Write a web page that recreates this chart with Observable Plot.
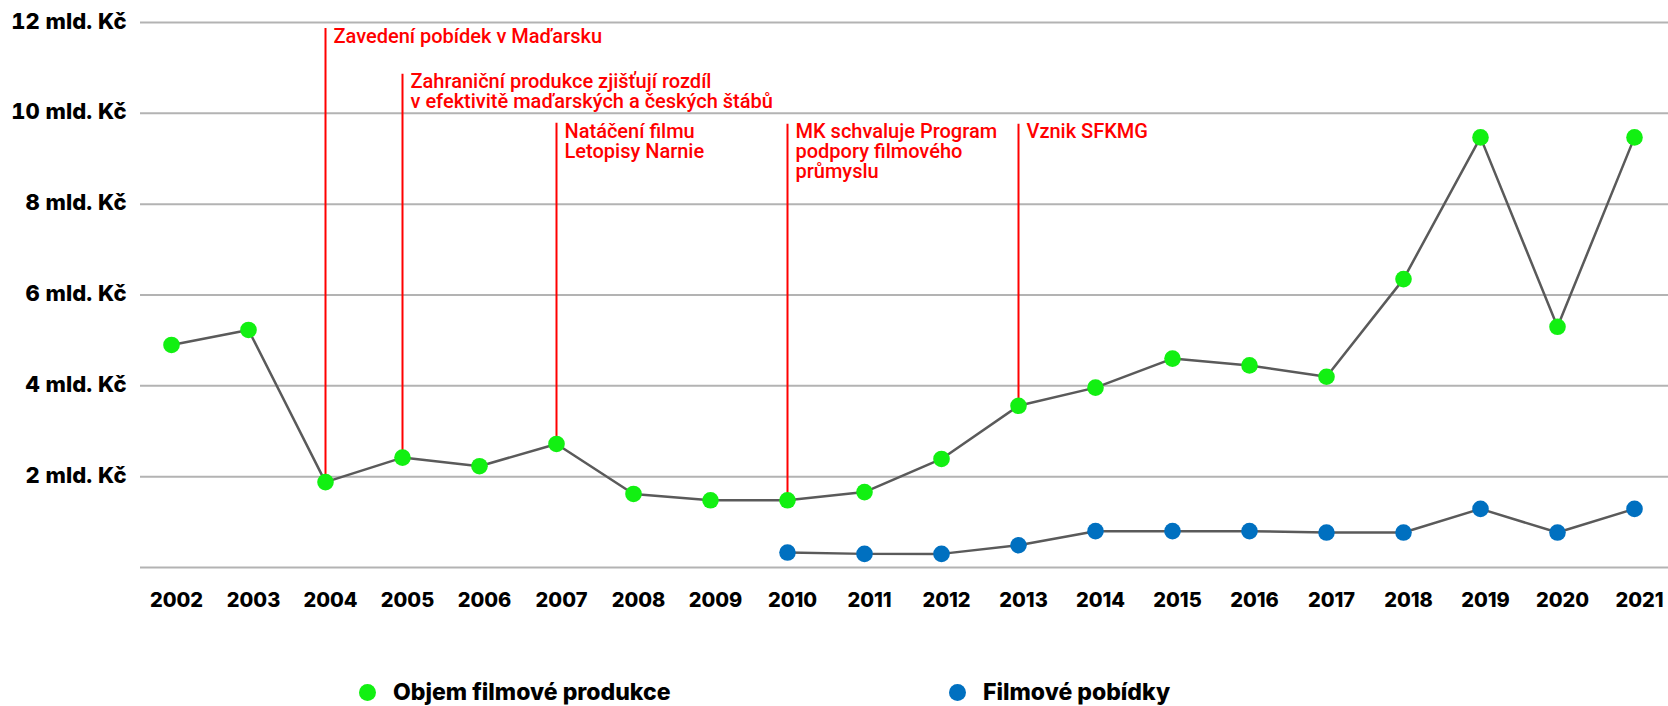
<!DOCTYPE html>
<html>
<head>
<meta charset="utf-8">
<script src="https://cdn.jsdelivr.net/npm/d3@7"></script>
<script src="https://cdn.jsdelivr.net/npm/@observablehq/plot@0.6"></script>
<style>
  html, body { margin: 0; padding: 0; background: #fff; overflow: hidden; }
  #chart svg { display: block; }
  .tick-heavy text { font-family: "Inter", sans-serif; font-weight: 800; fill: #000; }
  #legend { position: relative; height: 40px; font-family: "Inter", sans-serif; font-weight: 800; font-size: 23px; color: #000; }
  #legend .dot { position: absolute; width: 17px; height: 17px; border-radius: 50%; top: 11.5px; }
  #legend .lab { position: absolute; top: 0; line-height: 40px; white-space: nowrap; }
</style>
</head>
<body>
<div id="chart"></div>
<div id="legend"></div>
<script>
const years = [2002, 2003, 2004, 2005, 2006, 2007, 2008, 2009, 2010, 2011, 2012, 2013, 2014, 2015, 2016, 2017, 2018, 2019, 2020, 2021];
const production = [4.90, 5.23, 1.88, 2.42, 2.23, 2.72, 1.62, 1.48, 1.48, 1.66, 2.39, 3.56, 3.96, 4.60, 4.45, 4.20, 6.35, 9.47, 5.30, 9.47];
const incentiveYears = [2010, 2011, 2012, 2013, 2014, 2015, 2016, 2017, 2018, 2019, 2020, 2021];
const incentives = [0.33, 0.30, 0.30, 0.49, 0.80, 0.80, 0.80, 0.77, 0.77, 1.29, 0.77, 1.29];
const yTicks = [2, 4, 6, 8, 10, 12];
const gridValues = [0, 2, 4, 6, 8, 10, 12];
const eventYears = [2004, 2005, 2007, 2010, 2013];
const eventTops = [11.87, 10.86, 9.78, 9.76, 9.76];
const eventTexts = [
  "Zavedení pobídek v Maďarsku",
  "Zahraniční produkce zjišťují rozdíl\nv efektivitě maďarských a českých štábů",
  "Natáčení filmu\nLetopisy Narnie",
  "MK schvaluje Program\npodpory filmového\nprůmyslu",
  "Vznik SFKMG"
];
const seriesNames = ["Objem filmové produkce", "Filmové pobídky"];
const seriesColors = ["#12f012", "#0070c0"];

const prodData = years.map((y, i) => ({year: y, value: production[i]}));
const incData = incentiveYears.map((y, i) => ({year: y, value: incentives[i]}));
const events = eventYears.map((y, i) => ({
  year: y,
  top: eventTops[i],
  bottom: production[years.indexOf(y)],
  text: eventTexts[i]
}));

const chart = Plot.plot({
  width: 1668,
  height: 672,
  marginLeft: 140,
  marginRight: 0,
  marginTop: 22,
  marginBottom: 105,
  style: {background: "#fff", overflow: "visible"},
  x: {type: "point", domain: years, padding: 0, insetLeft: 22, insetRight: 25, label: null},
  y: {domain: [0, 12], label: null},
  marks: [
    Plot.ruleY(gridValues, {stroke: "#b3b3b3", strokeWidth: 2}),
    Plot.ruleX(events, {x: "year", y1: "bottom", y2: "top", stroke: "#ff0000", strokeWidth: 2}),
    Plot.line(prodData, {x: "year", y: "value", stroke: "#5a5a5a", strokeWidth: 2.5}),
    Plot.line(incData, {x: "year", y: "value", stroke: "#5a5a5a", strokeWidth: 2.5}),
    Plot.dot(prodData, {x: "year", y: "value", r: 8.3, fill: seriesColors[0], stroke: "none"}),
    Plot.dot(incData, {x: "year", y: "value", r: 8.3, fill: seriesColors[1], stroke: "none"}),
    Plot.text(events, {
      x: "year", y: "top", text: "text",
      textAnchor: "start", lineAnchor: "top", dx: 8,
      fill: "#ff0000", fontSize: 20, fontWeight: 500, fontFamily: "Roboto",
      lineHeight: 1.0
    }),
    Plot.axisY({
      ticks: yTicks, tickFormat: d => `${d} mld. Kč`, tickSize: 0, tickPadding: 14, label: null,
      fontSize: 22, fontWeight: 800, fontFamily: "Inter", className: "tick-heavy", dy: -1
    }),
    Plot.axisX({
      tickSize: 0, tickPadding: 25, tickFormat: d => String(d), label: null,
      fontSize: 20, fontWeight: 800, fontFamily: "Inter", className: "tick-heavy", dx: 5
    })
  ]
});
document.getElementById("chart").appendChild(chart);

const legend = document.getElementById("legend");
const legendDotX = [367, 957];
const legendTextX = [393, 983];
seriesNames.forEach((name, i) => {
  const dot = document.createElement("div");
  dot.className = "dot";
  dot.style.left = (legendDotX[i] - 8.5) + "px";
  dot.style.background = seriesColors[i];
  legend.appendChild(dot);
  const lab = document.createElement("div");
  lab.className = "lab";
  lab.style.left = legendTextX[i] + "px";
  lab.textContent = name;
  legend.appendChild(lab);
});
</script>
</body>
</html>
